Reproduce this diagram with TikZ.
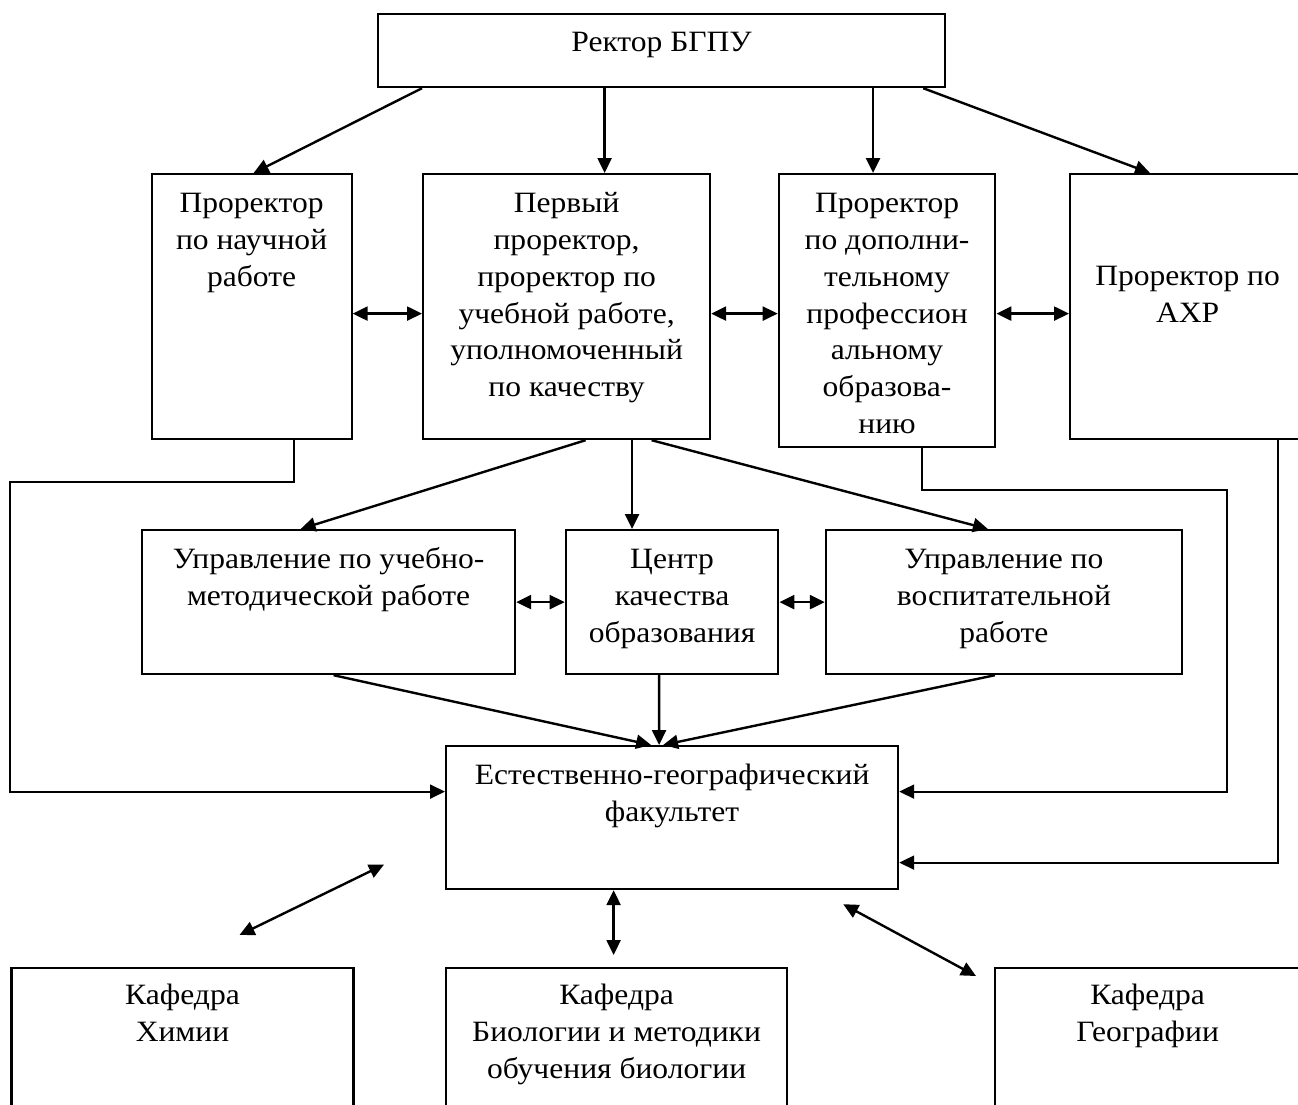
\documentclass[tikz,border=0pt]{standalone}
\usepackage{fontspec}
\setmainfont{Liberation Serif}[FakeStretch=1.07]
\usetikzlibrary{arrows.meta,positioning}
\newcommand\boxfont{\fontsize{29.5}{36.7}\selectfont}

\begin{document}
\begin{tikzpicture}[x=1pt,y=-1pt,
  box/.style={draw,line width=2.2pt,anchor=north west,inner sep=0pt},
  txt/.style={align=center,inner sep=0pt,font=\boxfont},
  arr/.style={line width=2.4pt,-{Triangle[length=15pt,width=14pt]}},
  dbl/.style={line width=2.4pt,{Triangle[length=15pt,width=14pt]}-{Triangle[length=15pt,width=14pt]}},
  link/.style={line width=2pt,-{Triangle[length=15pt,width=14pt]}}]

\useasboundingbox (0,0) rectangle (1298,1104);
\clip (0,0) rectangle (1298,1104);

\node[box,minimum width=567,minimum height=73] (rector) at (377,13) {};
\node[box,minimum width=200,minimum height=265] (nauch) at (150.5,173) {};
\node[box,minimum width=287,minimum height=265] (first) at (422,173) {};
\node[box,minimum width=216.5,minimum height=272.7] (dop) at (777.7,173) {};
\node[box,minimum width=235,minimum height=265] (axr) at (1069,173) {};
\node[box,minimum width=373,minimum height=144] (umr) at (141,529) {};
\node[box,minimum width=212.5,minimum height=144] (ckach) at (564.7,529) {};
\node[box,minimum width=356,minimum height=144] (vosp) at (824.8,529) {};
\node[box,minimum width=452,minimum height=143] (egf) at (445,745) {};
\node[box,minimum width=342,minimum height=160] (khim) at (10.4,967) {};
\node[box,minimum width=341,minimum height=160] (biol) at (445,967) {};
\node[box,minimum width=305,minimum height=160] (geog) at (994,967) {};

\node[txt,below=13pt of rector.north] (rectorT) {\strut Ректор БГПУ};
\node[txt,below=14pt of nauch.north] (nauchT) {\strut Проректор\\по научной\\работе};
\node[txt,below=14pt of first.north] (firstT) {\strut Первый\\проректор,\\проректор по\\учебной работе,\\уполномоченный\\по качеству};
\node[txt,below=14pt of dop.north] (dopT) {\strut Проректор\\по дополни-\\тельному\\профессион\\альному\\образова-\\нию};
\node[txt,below=87pt of axr.north] (axrT) {\strut Проректор по\\АХР};
\node[txt,below=14pt of umr.north] (umrT) {\strut Управление по учебно-\\методической работе};
\node[txt,below=14pt of ckach.north] (ckachT) {\strut Центр\\качества\\образования};
\node[txt,below=14pt of vosp.north] (vospT) {\strut Управление по\\воспитательной\\работе};
\node[txt,below=14pt of egf.north] (egfT) {\strut Естественно-географический\\факультет};
\node[txt,below=12pt of khim.north] (khimT) {\strut Кафедра\\Химии};
\node[txt,below=12pt of biol.north] (biolT) {\strut Кафедра\\Биологии и методики\\обучения биологии};
\node[txt,below=12pt of geog.north] (geogT) {\strut Кафедра\\Географии};

\coordinate (lcorner) at (10,482);
\coordinate (rcorner) at (1227,490);

\draw[arr] ([xshift=45pt]rector.south west) -- ([xshift=2pt]nauch.north);
\draw[arr] ([xshift=38pt]first.north |- rector.south) -- ([xshift=38pt]first.north);
\draw[arr] ([xshift=-14pt]dop.north |- rector.south) -- ([xshift=-14pt]dop.north);
\draw[arr] ([xshift=-23pt]rector.south east) -- ([xshift=81pt]axr.north west);

\draw[dbl] ([yshift=-7pt]nauch.east) -- ([yshift=-7pt]nauch.east -| first.west);
\draw[dbl] ([yshift=-7pt]first.east) -- ([yshift=-7pt]first.east -| dop.west);
\draw[dbl] ([yshift=-7pt]first.east -| dop.east) -- ([yshift=-7pt]first.east -| axr.west);

\draw[arr] ([xshift=19pt]first.south) -- ([xshift=-28pt]umr.north);
\draw[arr] ([xshift=-40pt]ckach.north |- first.south) -- ([xshift=-40pt]ckach.north);
\draw[arr] ([xshift=85pt]first.south) -- ([xshift=-16pt]vosp.north);

\draw[dbl] (umr.east) -- (ckach.west);
\draw[dbl] (ckach.east) -- (vosp.west);

\draw[arr] ([xshift=5pt]umr.south) -- ([xshift=-21pt]egf.north);
\draw[arr] ([xshift=-13pt]ckach.south) -- ([xshift=-13pt]egf.north);
\draw[arr] ([xshift=-9pt]vosp.south) -- ([xshift=-9pt]egf.north);

\draw[link] ([xshift=42pt]nauch.south) |- (lcorner) |- ([yshift=26pt]egf.west);
\draw[link] ([xshift=35pt]dop.south) |- (rcorner) |- ([yshift=26pt]egf.east);
\draw[link] ([xshift=90pt]axr.south) |- ([yshift=-45pt]egf.east);

\draw[dbl] ([xshift=-61pt,yshift=-47pt]egf.west) -- ([xshift=57pt,yshift=32pt]khim.north);
\draw[dbl] ([xshift=-3pt,yshift=12pt]biol.north) -- ([xshift=-3pt]biol.north |- egf.south);
\draw[dbl] ([xshift=-56pt,yshift=-14pt]egf.south east) -- ([xshift=-18pt,yshift=-9pt]geog.north west);

\end{tikzpicture}
\end{document}
